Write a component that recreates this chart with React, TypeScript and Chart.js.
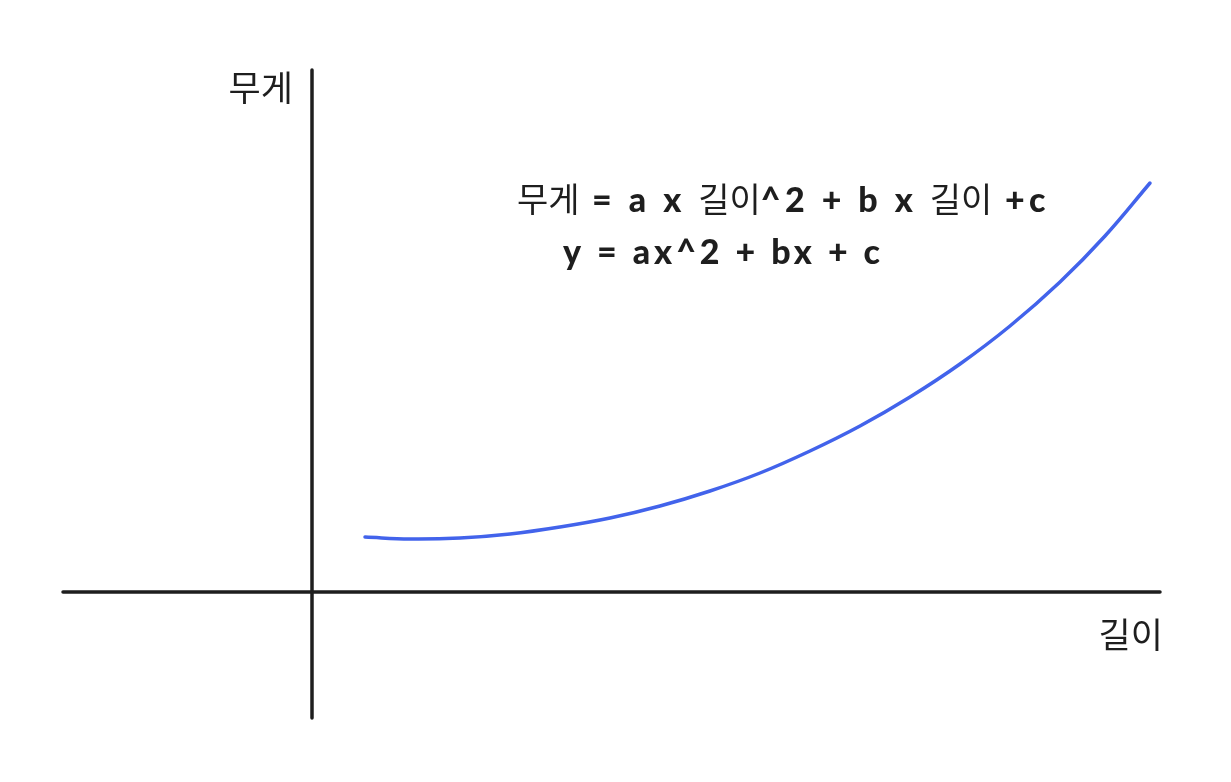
import React, { useEffect, useRef } from "react";
import { Chart, registerables } from "chart.js";

Chart.register(...registerables);

// Curve samples: length (x) vs weight (y)
const LENGTH = [0.53, 0.98, 1.48, 1.98, 2.48, 2.98, 3.48, 3.98, 4.48, 4.98, 5.48, 5.98, 6.48, 6.98, 7.48, 7.93, 8.38];
const WEIGHT = [0.55, 0.53, 0.54, 0.58, 0.65, 0.74, 0.86, 1.01, 1.19, 1.41, 1.66, 1.95, 2.28, 2.66, 3.1, 3.56, 4.09];

// Extents of the hand-drawn axis lines
const X_AXIS_SPAN = [-2.49, 8.48];
const Y_AXIS_SPAN = [-1.26, 5.22];

// Visible window of the plane
const X_RANGE = [-3.12, 9.19];
const Y_RANGE = [-1.9, 5.92];

const X_TITLE = "길이";
const Y_TITLE = "무게";
const FORMULA_LINES = ["무게 = a x 길이^2 + b x 길이 +c", "y = ax^2 + bx + c"];

const INK = "#1e1e1e";
const CURVE_BLUE = "#4263eb";
const HANGUL_FONT = '"Noto Sans CJK KR", "Noto Sans", sans-serif';
const LATIN_FONT = 'Lato, "Open Sans", sans-serif';

const isHangul = (s: string) => /[\uAC00-\uD7A3]/.test(s);

// Draws text with Hangul runs in a plain sans and Latin runs in a heavy face.
// When a width is given, the Latin runs are letter-spaced to fill it.
function drawMixed(
  ctx: CanvasRenderingContext2D,
  text: string,
  x: number,
  y: number,
  size: number,
  align: "left" | "right" = "left",
  width?: number
) {
  const runs = text.match(/[\uAC00-\uD7A3]+|[^\uAC00-\uD7A3]+/g) || [];
  const fontFor = (r: string) =>
    isHangul(r) ? `400 ${size}px ${HANGUL_FONT}` : `900 ${size}px ${LATIN_FONT}`;
  const c = ctx as any;
  c.letterSpacing = "0px";
  let natural = 0;
  let latinChars = 0;
  for (const r of runs) {
    ctx.font = fontFor(r);
    natural += ctx.measureText(r).width;
    if (!isHangul(r)) latinChars += r.length;
  }
  const spacing = width && latinChars ? Math.max(0, (width - natural) / latinChars) : 0;
  const total = natural + spacing * latinChars;
  let cx = align === "right" ? x - total : x;
  ctx.textAlign = "left";
  ctx.textBaseline = "alphabetic";
  for (const r of runs) {
    ctx.font = fontFor(r);
    const sp = isHangul(r) ? 0 : spacing;
    c.letterSpacing = `${sp}px`;
    ctx.fillText(r, cx, y);
    cx += ctx.measureText(r).width;
    c.letterSpacing = "0px";
  }
}

const labelPlugin = {
  id: "sketchLabels",
  afterDatasetsDraw(chart: Chart) {
    const { ctx, scales } = chart;
    const sx = scales.x;
    const sy = scales.y;
    ctx.save();
    ctx.fillStyle = INK;
    // axis titles
    drawMixed(ctx, Y_TITLE, sx.getPixelForValue(0) - 19, sy.getPixelForValue(Y_AXIS_SPAN[1]) + 31, 35, "right");
    drawMixed(ctx, X_TITLE, sx.getPixelForValue(X_AXIS_SPAN[1]) + 3, sy.getPixelForValue(0) + 56, 35, "right");
    // formula
    drawMixed(ctx, FORMULA_LINES[0], 517, 212, 34, "left", 533);
    drawMixed(ctx, FORMULA_LINES[1], 563, 264, 34, "left", 321);
    ctx.restore();
  },
};

export default function App() {
  const canvasRef = useRef<HTMLCanvasElement | null>(null);

  useEffect(() => {
    const canvas = canvasRef.current;
    if (!canvas) return;
    const chart = new Chart(canvas, {
      type: "line",
      data: {
        datasets: [
          {
            data: X_AXIS_SPAN.map((x) => ({ x, y: 0 })),
            borderColor: INK,
            borderWidth: 3.5,
            borderCapStyle: "round",
            pointRadius: 0,
          },
          {
            data: Y_AXIS_SPAN.map((y) => ({ x: 0, y })),
            borderColor: INK,
            borderWidth: 3.5,
            borderCapStyle: "round",
            pointRadius: 0,
          },
          {
            data: LENGTH.map((x, i) => ({ x, y: WEIGHT[i] })),
            borderColor: CURVE_BLUE,
            borderWidth: 3.5,
            borderCapStyle: "round",
            tension: 0.4,
            pointRadius: 0,
          },
        ],
      },
      options: {
        responsive: false,
        animation: false,
        layout: { padding: 0 },
        plugins: { legend: { display: false }, tooltip: { enabled: false } },
        scales: {
          x: { type: "linear", min: X_RANGE[0], max: X_RANGE[1], display: false },
          y: { type: "linear", min: Y_RANGE[0], max: Y_RANGE[1], display: false },
        },
      },
      plugins: [labelPlugin],
    });
    return () => chart.destroy();
  }, []);

  return (
    <div style={{ position: "fixed", left: 0, top: 0, width: 1231, height: 782, background: "#ffffff" }}>
      <canvas ref={canvasRef} width={1231} height={782} />
    </div>
  );
}
